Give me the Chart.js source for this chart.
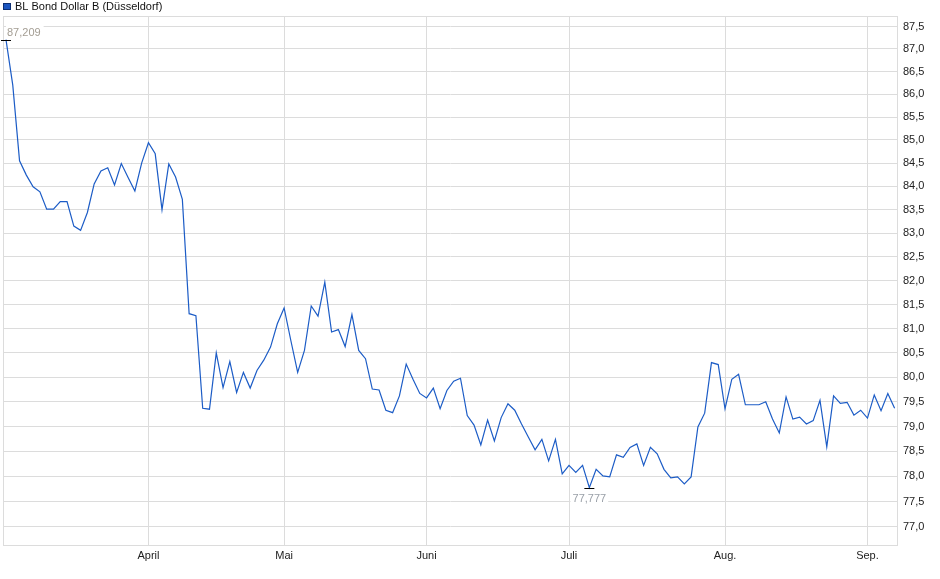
<!DOCTYPE html>
<html>
<head>
<meta charset="utf-8">
<script src="https://cdn.jsdelivr.net/npm/chart.js@4/dist/chart.umd.min.js"></script>
<style>
  body { margin: 0; background: #fff; }
  #wrap { width: 940px; height: 579px; }
</style>
</head>
<body>
<div id="wrap"><canvas id="kurs" width="940" height="579"></canvas></div>
<script>
// Kursverlauf, ein Wert pro Handelstag
var seriesName = 'BL Bond Dollar B (Düsseldorf)'
var prices = [
  87.209, 86.2, 84.55, 84.24, 83.99, 83.88, 83.51, 83.51, 83.67, 83.67,
  83.15, 83.06, 83.44, 84.05, 84.33, 84.4, 84.03, 84.49, 84.19, 83.9,
  84.5, 84.94, 84.7, 83.5, 84.48, 84.2, 83.72, 81.31, 81.27, 79.37,
  79.35, 80.5, 79.79, 80.32, 79.69, 80.1, 79.78, 80.14, 80.35, 80.62,
  81.1, 81.43, 80.75, 80.1, 80.55, 81.47, 81.26, 81.97, 80.93, 80.98,
  80.63, 81.29, 80.55, 80.38, 79.76, 79.74, 79.33, 79.28, 79.62, 80.27,
  79.96, 79.67, 79.58, 79.78, 79.36, 79.73, 79.92, 79.98, 79.22, 79.03,
  78.63, 79.13, 78.71, 79.18, 79.46, 79.33, 79.05, 78.79, 78.53, 78.74,
  78.31, 78.74, 78.05, 78.22, 78.08, 78.22, 77.777, 78.14, 78.01, 77.99,
  78.43, 78.38, 78.58, 78.65, 78.22, 78.58, 78.45, 78.14, 77.97, 77.99,
  77.85, 77.99, 78.99, 79.27, 80.3, 80.26, 79.36, 79.96, 80.06, 79.44,
  79.44, 79.44, 79.5, 79.15, 78.87, 79.6, 79.15, 79.19, 79.05, 79.12,
  79.53, 78.59, 79.62, 79.47, 79.49, 79.23, 79.33, 79.17, 79.64, 79.32,
  79.67, 79.37
]
var monthLabels = ['April', 'Mai', 'Juni', 'Juli', 'Aug.', 'Sep.']
var monthIdx = [21, 41, 62, 83, 106, 127]
var yTicks = [77.0, 77.5, 78.0, 78.5, 79.0, 79.5, 80.0, 80.5, 81.0, 81.5,
  82.0, 82.5, 83.0, 83.5, 84.0, 84.5, 85.0, 85.5, 86.0, 86.5, 87.0, 87.5]

var gridColor = '#dcdcdc'
var lineColor = '#1c5cc6'
var fontFam = '"Liberation Sans", Arial, sans-serif'

function deNum(v, d) {
  return v.toFixed(d).replace('.', ',')
}

// Rahmen, Hoch/Tief-Markierung und Legende
var extras = {
  id: 'extras',
  beforeDatasetsDraw: function (chart) {
    var a = chart.chartArea, c = chart.ctx
    c.save()
    c.strokeStyle = gridColor
    c.lineWidth = 1
    c.strokeRect(Math.round(a.left) + 0.5, Math.round(a.top) + 0.5,
      Math.round(a.right - a.left) - 1, Math.round(a.bottom - a.top) - 1)
    c.restore()
  },
  afterDatasetsDraw: function (chart) {
    var c = chart.ctx
    var xs = chart.scales.x, ys = chart.scales.y
    var hi = 0, lo = 0
    prices.forEach(function (p, i) {
      if (p > prices[hi]) hi = i
      if (p < prices[lo]) lo = i
    })
    c.save()
    c.font = '11px ' + fontFam
    c.textBaseline = 'middle'
    // Hoch
    var hx = xs.getPixelForValue(hi), hy = Math.round(ys.getPixelForValue(prices[hi])) + 0.5
    var ht = deNum(prices[hi], 3), hw = c.measureText(ht).width
    c.fillStyle = '#fff'
    c.fillRect(hx, hy - 15, hw + 4, 13)
    c.fillStyle = '#a39d93'
    c.textAlign = 'left'
    c.fillText(ht, hx + 1, hy - 8)
    c.strokeStyle = '#000'
    c.beginPath(); c.moveTo(hx - 5, hy); c.lineTo(hx + 5, hy); c.stroke()
    // Tief
    var lx = xs.getPixelForValue(lo), ly = Math.round(ys.getPixelForValue(prices[lo])) + 0.5
    var lt = deNum(prices[lo], 3), lw = c.measureText(lt).width
    c.fillStyle = '#fff'
    c.fillRect(lx - lw / 2 - 2, ly + 3, lw + 4, 13)
    c.fillStyle = '#9aa0a8'
    c.textAlign = 'center'
    c.fillText(lt, lx, ly + 10)
    c.strokeStyle = '#000'
    c.beginPath(); c.moveTo(lx - 5, ly); c.lineTo(lx + 5, ly); c.stroke()
    c.restore()
  },
  afterDraw: function (chart) {
    var c = chart.ctx
    c.save()
    c.fillStyle = '#1c56c0'
    c.fillRect(3, 3, 8, 7)
    c.strokeStyle = '#0d2f73'
    c.strokeRect(3.5, 3.5, 7, 6)
    c.fillStyle = '#111'
    c.font = '11px ' + fontFam
    c.textBaseline = 'middle'
    c.fillText(seriesName, 15, 6.5)
    c.restore()
  }
}

new Chart(document.getElementById('kurs'), {
  type: 'line',
  data: {
    datasets: [{
      label: seriesName,
      data: prices.map(function (p, i) { return { x: i, y: p } }),
      borderColor: lineColor,
      borderWidth: 1.2,
      pointRadius: 0,
      tension: 0,
      fill: false,
    }],
  },
  options: {
    responsive: false,
    devicePixelRatio: 1,
    animation: false,
    layout: { padding: { top: 16, left: 3, right: 0, bottom: 0 } },
    plugins: {
      legend: { display: false },
      tooltip: { enabled: false },
    },
    scales: {
      x: {
        type: 'linear',
        min: -0.44,
        max: 131.5,
        afterBuildTicks: function (s) {
          s.ticks = monthIdx.map(function (v) { return { value: v } })
        },
        afterFit: function (s) { s.height = 33 },
        grid: { color: gridColor, drawTicks: false },
        border: { display: false },
        ticks: {
          autoSkip: false,
          maxRotation: 0,
          padding: 3,
          color: '#222',
          font: { family: fontFam, size: 11 },
          callback: function (v) {
            var k = monthIdx.indexOf(v)
            return k >= 0 ? monthLabels[k] : ''
          },
        },
      },
      y: {
        type: 'logarithmic',
        position: 'right',
        min: 76.625,
        max: 87.735,
        afterBuildTicks: function (s) {
          s.ticks = yTicks.map(function (v) { return { value: v } })
        },
        afterFit: function (s) { s.width = 42 },
        grid: { color: gridColor, drawTicks: false },
        border: { display: false },
        ticks: {
          padding: 5,
          color: '#222',
          font: { family: fontFam, size: 11 },
          callback: function (v) { return deNum(v, 1) },
        },
      },
    },
  },
  plugins: [extras],
})
</script>
</body>
</html>
